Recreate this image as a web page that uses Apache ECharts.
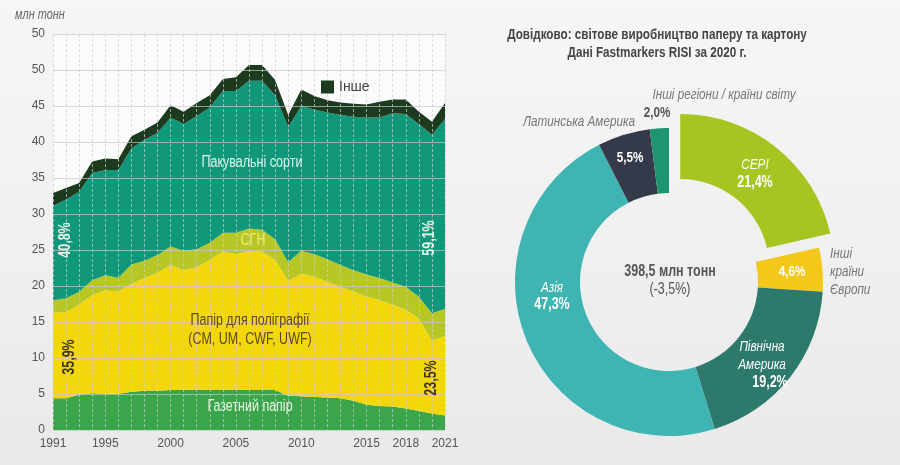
<!DOCTYPE html>
<html>
<head>
<meta charset="utf-8">
<script src="https://cdn.jsdelivr.net/npm/echarts@6/dist/echarts.min.js"></script>
<style>
html,body{margin:0;padding:0;}
body{background:linear-gradient(180deg,#f6f6f6 0%,#efefef 60%,#e9e9e9 100%);}
#c{width:900px;height:465px;}
</style>
</head>
<body>
<div id="c"></div>
<script>
// ---- Left chart data (млн тонн) ----
const years = ['1991','1992','1993','1994','1995','1996','1997','1998','1999','2000','2001','2002','2003','2004','2005','2006','2007','2008','2009','2010','2011','2012','2013','2014','2015','2016','2017','2018','2019','2020','2021'];
const shownYears = ['1991','1995','2000','2005','2010','2015','2018','2021'];
const newsprint = [4.4,4.4,4.9,5.1,5.05,5.05,5.3,5.45,5.45,5.55,5.6,5.6,5.6,5.6,5.6,5.55,5.55,5.55,4.75,4.7,4.6,4.5,4.4,4.05,3.5,3.35,3.25,3.0,2.65,2.3,2.0];
const printing = [11.9,12.0,12.5,13.65,14.35,14.15,15.0,15.65,16.4,17.35,16.6,17.0,18.0,19.2,18.8,19.35,19.25,18.05,15.95,17.05,16.7,16.1,15.5,15.15,15.0,14.7,14.15,13.7,12.85,10.1,11.05];
const sgn = [1.7,1.9,1.8,2.05,2.1,1.95,2.7,2.4,2.45,2.6,2.7,2.5,2.4,2.6,3.0,3.1,3.0,2.9,2.6,3.15,3.1,3.1,3.0,3.0,3.1,3.05,3.1,3.2,3.0,3.8,3.75];
const packaging = [13.1,13.7,13.9,14.9,14.6,14.95,16.1,16.8,17.0,17.9,17.6,18.5,18.8,19.7,19.7,20.5,20.7,20.0,18.8,20.1,20.1,20.4,20.85,21.3,21.8,22.3,23.5,24.0,24.0,24.8,26.4];
const other = [1.8,1.6,1.2,1.6,1.6,1.5,1.7,1.4,1.4,1.7,1.7,1.8,1.7,1.65,1.9,2.2,2.2,2.1,1.65,2.3,1.9,1.7,1.75,1.8,1.8,2.2,1.9,2.0,1.7,1.8,2.2];
const seriesNames = ['Газетний папір','Папір для поліграфії','СГН','Пакувальні сорти','Інше'];
const yTickLabels = {0:'0',5:'5',10:'10',15:'15',20:'20',25:'25',30:'30',35:'35',40:'40',45:'45',50:'50',55:'50'};

// ---- Donut data (%, 2020) ----
const regions = ['СЕРІ','Інші країни Європи','Північна Америка','Азія','Латинська Америка','Інші регіони / країни світу'];
const regionShares = [21.4,4.6,19.2,47.3,5.5,2.0];
const regionShareLabels = ['21,4%','4,6%','19,2%','47,3%','5,5%','2,0%'];

const F = "'Liberation Sans',Arial,sans-serif";
const SX = 0.78;
const areaColors = ['#3ba54b','#f4d60c','#b7c826','#11977a','#1b3a1e'];
const areaData = [newsprint, printing, sgn, packaging, other];
const pieColors = ['#a6c520','#f4c81a','#2d7a6c','#3fb5b3','#353a4a','#1e9470'];

const chart = echarts.init(document.getElementById('c'), null, {renderer:'canvas'});

const areaSeries = areaData.map((d,i)=>({
  name: seriesNames[i], type:'line', stack:'total', data:d,
  symbol:'none', lineStyle:{width:0}, areaStyle:{color:areaColors[i], opacity:1},
  itemStyle:{color:areaColors[i]}, z:2, silent:true
}));

function txt(x,y,text,opt){
  return {type:'text', x:x, y:y, z:50, scaleX:SX,
    style:Object.assign({text:text, fontFamily:F, fontSize:14, fill:'#333', align:'center', verticalAlign:'middle'}, opt||{})};
}
function rtxt(x,y,text,fill){
  return {type:'text', x:x, y:y, rotation:Math.PI/2, scaleX:SX, z:50,
    style:{text:text, fontFamily:F, fontSize:16, fontWeight:'bold', fill:fill, align:'center', verticalAlign:'middle'}};
}

chart.setOption({
  animation:false,
  backgroundColor:'transparent',
  grid:{left:53, right:455, top:34, bottom:35, show:true, backgroundColor:'#fbfbfb', borderWidth:0},
  legend:{data:['Інше'], left:316, top:75, icon:'rect', itemWidth:13, itemHeight:13, itemGap:6,
    textStyle:{fontFamily:F, fontSize:14, color:'#444'}, selectedMode:false},
  xAxis:{type:'category', data:years, boundaryGap:false, z:3,
    axisLine:{show:false}, axisTick:{show:false},
    axisLabel:{interval:(idx,val)=>shownYears.indexOf(val)>=0, fontFamily:F, fontSize:12, color:'#555', margin:8},
    splitLine:{show:true, interval:0, lineStyle:{color:'rgba(205,205,205,0.7)', type:[3,2], width:1}}},
  yAxis:{type:'value', min:0, max:55, interval:5, z:3,
    axisLine:{show:false}, axisTick:{show:false},
    axisLabel:{formatter:v=>yTickLabels[v], fontFamily:F, fontSize:12, color:'#555', margin:8},
    splitLine:{show:true, lineStyle:{color:'rgba(200,200,200,0.7)', width:1}}},
  series: areaSeries.concat([{
    type:'pie', name:'regions', center:[669,282], radius:[89,154], startAngle:90, clockwise:true,
    selectedMode:'single', selectedOffset:18, silent:true, avoidLabelOverlap:false,
    label:{show:false}, labelLine:{show:false}, emphasis:{disabled:true},
    data: regions.map((r,i)=>({name:r, value:regionShares[i], selected:i===0, itemStyle:{color:pieColors[i]}}))
  }]),
  graphic:[
    txt(15,15,'млн тонн',{align:'left', fontStyle:'italic', fontSize:14, fill:'#666'}),
    txt(252,163,'Пакувальні сорти',{fontSize:16, fill:'#d9f3ea'}),
    txt(253,241,'СГН',{fontSize:16, fill:'#f6ea72'}),
    txt(250,330,'Папір для поліграфії\n(CM, UM, CWF, UWF)',{fontSize:16, fill:'#5b4a12', lineHeight:19}),
    txt(250,407,'Газетний папір',{fontSize:16, fill:'#e9f6e4'}),
    rtxt(66,240,'40,8%','#e4f6ec'),
    rtxt(70,357,'35,9%','#3e3510'),
    rtxt(430,238,'59,1%','#e4f6ec'),
    rtxt(432,378,'23,5%','#3e3510'),
    // donut side
    txt(657,35,'Довідково: світове виробництво паперу та картону',{fontSize:15, fontWeight:'bold', fill:'#444'}),
    txt(657,53,'Дані Fastmarkers RISI за 2020 г.',{fontSize:15, fontWeight:'bold', fill:'#444'}),
    txt(724,95,regions[5],{fontStyle:'italic', fontSize:15, fill:'#777'}),
    txt(657,113,regionShareLabels[5],{fontWeight:'bold', fontSize:15, fill:'#555'}),
    txt(579,122,regions[4],{fontStyle:'italic', fontSize:15, fill:'#777'}),
    txt(630,158,regionShareLabels[4],{fontWeight:'bold', fontSize:15, fill:'#fff'}),
    txt(755,165,regions[0],{fontStyle:'italic', fontSize:15, fill:'#fff'}),
    txt(755,183,regionShareLabels[0],{fontWeight:'bold', fontSize:16, fill:'#fff'}),
    txt(792,272,regionShareLabels[1],{fontWeight:'bold', fontSize:15, fill:'#fff'}),
    txt(830,272,'Інші\nкраїни\nЄвропи',{align:'left', fontStyle:'italic', fontSize:15, fill:'#777', lineHeight:18}),
    txt(762,356,'Північна\nАмерика',{fontStyle:'italic', fontSize:15, fill:'#fff', lineHeight:18}),
    txt(770,383,regionShareLabels[2],{fontWeight:'bold', fontSize:16, fill:'#fff'}),
    txt(552,288,'Азія',{fontStyle:'italic', fontSize:15, fill:'#fff'}),
    txt(552,305,regionShareLabels[3],{fontWeight:'bold', fontSize:16, fill:'#fff'}),
    txt(670,272,'398,5 млн тонн',{fontWeight:'bold', fontSize:16, fill:'#555'}),
    txt(670,290,'(-3,5%)',{fontSize:16, fill:'#555'})
  ]
});
</script>
</body>
</html>
